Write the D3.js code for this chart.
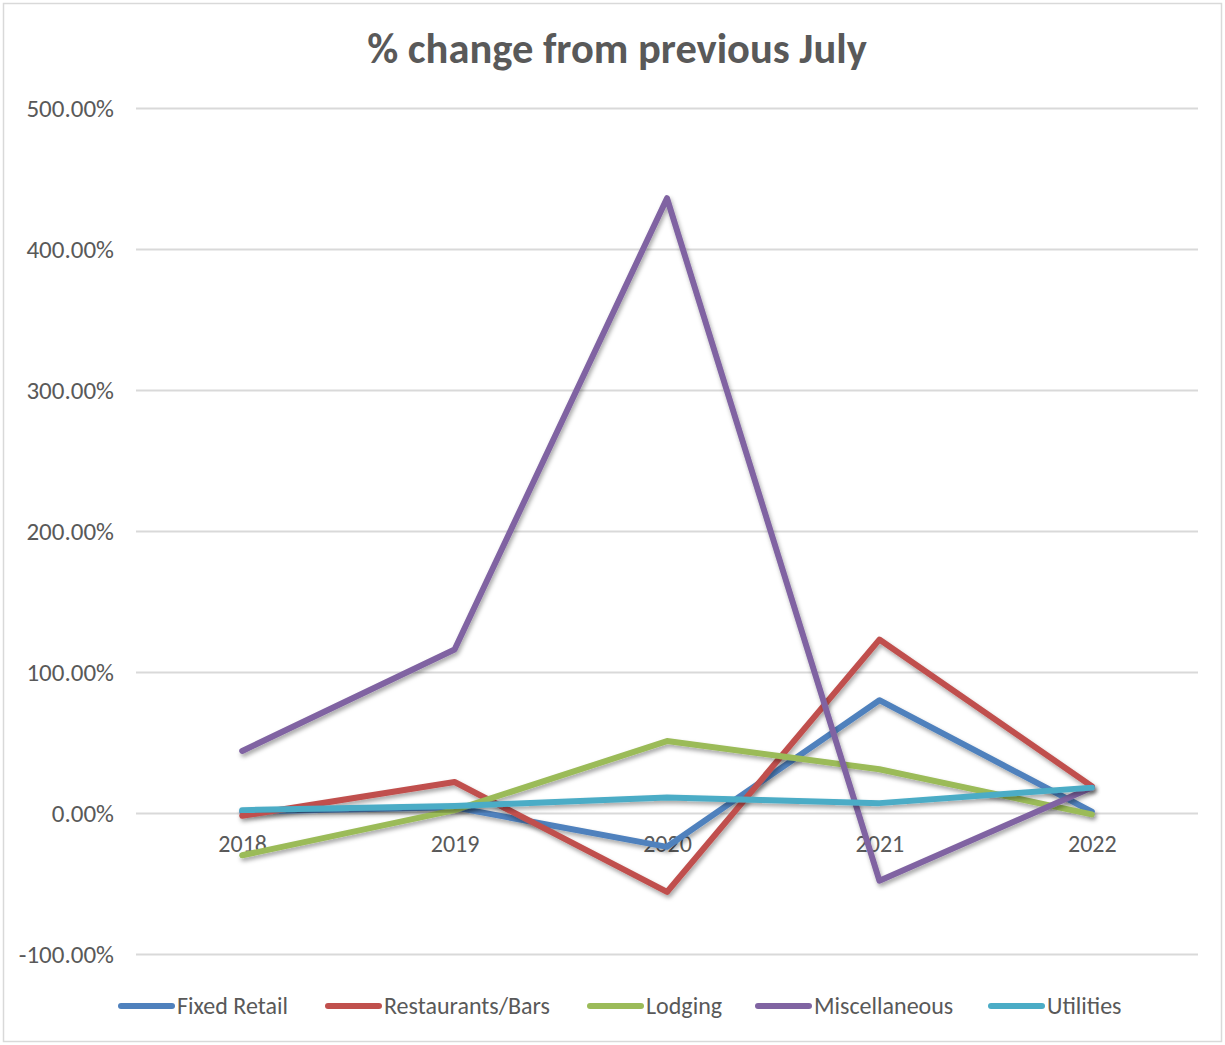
<!DOCTYPE html>
<html>
<head>
<meta charset="utf-8">
<script src="https://cdn.jsdelivr.net/npm/d3@7"></script>
<style>
  body { margin: 0; background: #fff; }
  text { font-family: Carlito, Lato, "Liberation Sans", sans-serif; fill: #595959; }
</style>
</head>
<body>
<div id="chart"></div>
<script>
// data
var years = ['2018', '2019', '2020', '2021', '2022'];
var seriesNames = ['Fixed Retail', 'Restaurants/Bars', 'Lodging', 'Miscellaneous', 'Utilities'];
var fixedRetail = [1, 4, -24, 80, 1];
var restaurantsBars = [-2, 22, -56, 123, 19];
var lodging = [-30, 2, 51, 31, -1];
var miscellaneous = [44, 116, 436, -48, 18];
var utilities = [2, 5, 11, 7, 18];
var yTicks = [-100, 0, 100, 200, 300, 400, 500];
var colors = ['#4F81BD', '#C0504D', '#9BBB59', '#8064A2', '#4BACC6'];

var allSeries = [fixedRetail, restaurantsBars, lodging, miscellaneous, utilities];

var width = 1225, height = 1045;

var svg = d3.select('#chart')
  .append('svg')
  .attr('width', width)
  .attr('height', height);

// shadow for lines
var defs = svg.append('defs');
var f = defs.append('filter').attr('id', 'shadow')
  .attr('x', '-10%').attr('y', '-10%').attr('width', '120%').attr('height', '120%');
f.append('feDropShadow')
  .attr('dx', 1.5).attr('dy', 3).attr('stdDeviation', 2)
  .attr('flood-color', '#000').attr('flood-opacity', 0.35);

// outer border
svg.append('rect')
  .attr('x', 3.5).attr('y', 3.5)
  .attr('width', width - 7).attr('height', height - 7)
  .attr('fill', 'none')
  .attr('stroke', '#d9d9d9')
  .attr('stroke-width', 1.5);

// title
svg.append('text')
  .attr('x', 617).attr('y', 63)
  .attr('text-anchor', 'middle')
  .style('font-size', '42.5px')
  .style('font-weight', 'bold')
  .text('% change from previous July');

var x = d3.scalePoint().domain(years).range([136, 1198]).padding(0.5);
var y = d3.scaleLinear().domain([-100, 500]).range([954, 108]);

// gridlines + y labels
var yAxis = d3.axisLeft(y)
  .tickValues(yTicks)
  .tickSize(-(1198 - 136))
  .tickPadding(22)
  .tickFormat(function(d){ return d.toFixed(2) + '%'; });

var gy = svg.append('g')
  .attr('transform', 'translate(136,0)')
  .call(yAxis);
gy.select('.domain').remove();
gy.selectAll('.tick line').attr('stroke', '#d9d9d9').attr('stroke-width', 2);
gy.selectAll('.tick text').style('font-size', '25px').attr('fill', '#595959');

// x labels (sit just under zero line)
var xAxis = d3.axisBottom(x).tickSize(0).tickPadding(22);
var gx = svg.append('g')
  .attr('transform', 'translate(0,' + y(0) + ')')
  .call(xAxis);
gx.select('.domain').remove();
gx.selectAll('.tick text').style('font-size', '24px').attr('fill', '#595959');

// lines
var line = d3.line()
  .x(function(d, i){ return x(years[i]); })
  .y(function(d){ return y(d); });

svg.append('g').selectAll('path')
  .data(allSeries)
  .enter()
  .append('path')
  .attr('d', line)
  .attr('fill', 'none')
  .attr('stroke', function(d, i){ return colors[i]; })
  .attr('stroke-width', 6)
  .attr('stroke-linejoin', 'round')
  .attr('stroke-linecap', 'round')
  .attr('filter', 'url(#shadow)');

// legend
var legendX = [118, 325, 587, 755, 988];
var lg = svg.append('g').selectAll('g')
  .data(seriesNames)
  .enter()
  .append('g')
  .attr('transform', function(d, i){ return 'translate(' + legendX[i] + ',1006)'; });

lg.append('line')
  .attr('x1', 3).attr('x2', 54)
  .attr('y1', 0).attr('y2', 0)
  .attr('stroke', function(d, i){ return colors[i]; })
  .attr('stroke-width', 6)
  .attr('stroke-linecap', 'round');

lg.append('text')
  .attr('x', 59).attr('y', 0)
  .attr('dy', '0.35em')
  .style('font-size', '24px')
  .text(function(d){ return d; });
</script>
</body>
</html>
